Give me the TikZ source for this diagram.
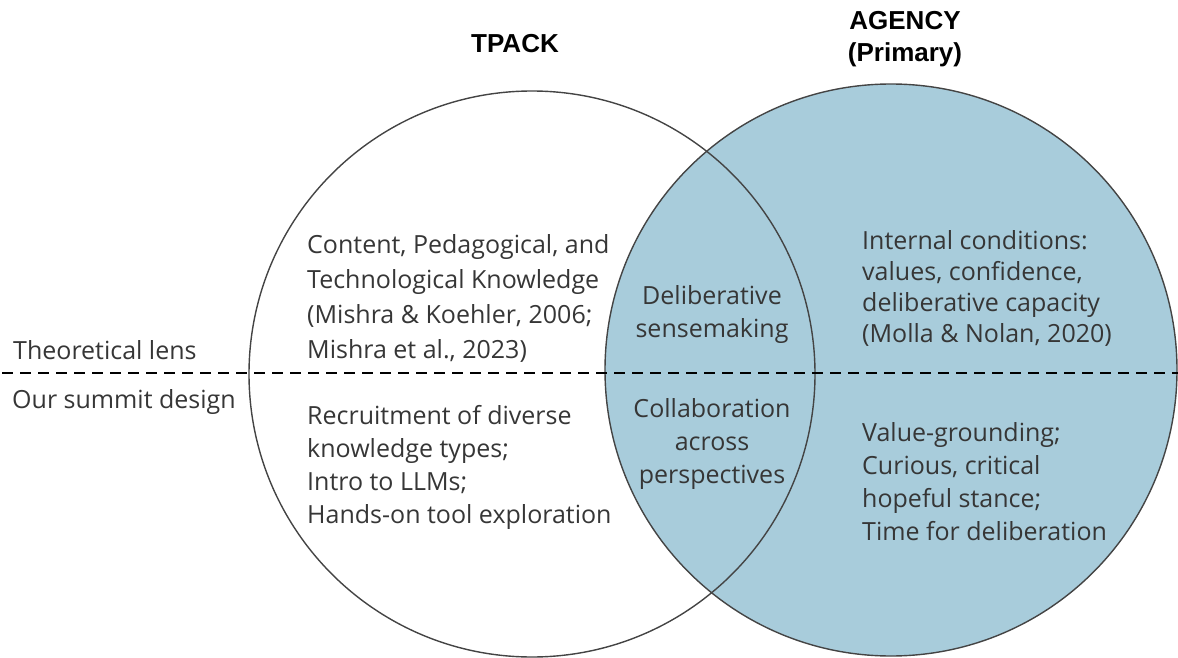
\documentclass[tikz,border=0pt]{standalone}
\usepackage{fontspec}
\setmainfont{Open Sans}
\newfontfamily\titlefont{Liberation Sans}
\definecolor{agencyblue}{HTML}{A8CCDB}
\definecolor{circline}{HTML}{444444}
\definecolor{bodytext}{HTML}{363636}
\begin{document}
\begin{tikzpicture}[x=1pt,y=-1pt,
  ring/.style={circle, draw=circline, line width=1.4pt, inner sep=0pt},
  body/.style={font=\fontsize{25}{33}\selectfont, text=bodytext, inner sep=0pt},
  lefttext/.style={body, align=left, anchor=west},
  midtext/.style={body, align=center},
  title/.style={font=\titlefont\bfseries\fontsize{26}{32}\selectfont, inner sep=0pt, align=center},
  divider/.style={line width=2pt, dash pattern=on 11pt off 7pt}]
\useasboundingbox (0,0) rectangle (1178,658);
\node[ring, fill=agencyblue, minimum size=572pt] (agency) at (891,370) {};
\node[ring, minimum size=566pt] (tpack) at (532,374) {};
\coordinate (divL) at (2,373);
\coordinate (divR) at (1178,373);
\draw[divider] (divL) -- (divR);
\node[title] (tpackT) at (515,44) {TPACK};
\node[title] (agencyT) at (905,39) {AGENCY\\(Primary)};
\node[lefttext] (lens) at (13,350) {Theoretical lens};
\node[lefttext] (design) at (12,402) {Our summit design};
\node[lefttext, font=\fontsize{25}{35}\selectfont] (tpackTop) at (307,298) {Content, Pedagogical, and\\Technological Knowledge\\(Mishra \& Koehler, 2006;\\Mishra et al., 2023)};
\node[midtext] (midTop) at (712,315) {Deliberative\\sensemaking};
\node[lefttext, font=\fontsize{25}{31}\selectfont] (agencyTop) at (862,288) {Internal conditions:\\values, confidence,\\deliberative capacity\\(Molla \& Nolan, 2020)};
\node[lefttext] (tpackBot) at (307,467) {Recruitment of diverse\\knowledge types;\\Intro to LLMs;\\Hands-on tool exploration};
\node[midtext] (midBot) at (712,444) {Collaboration\\across\\perspectives};
\node[lefttext] (agencyBot) at (862,482) {Value-grounding;\\Curious, critical\\hopeful stance;\\Time for deliberation};
\end{tikzpicture}
\end{document}
